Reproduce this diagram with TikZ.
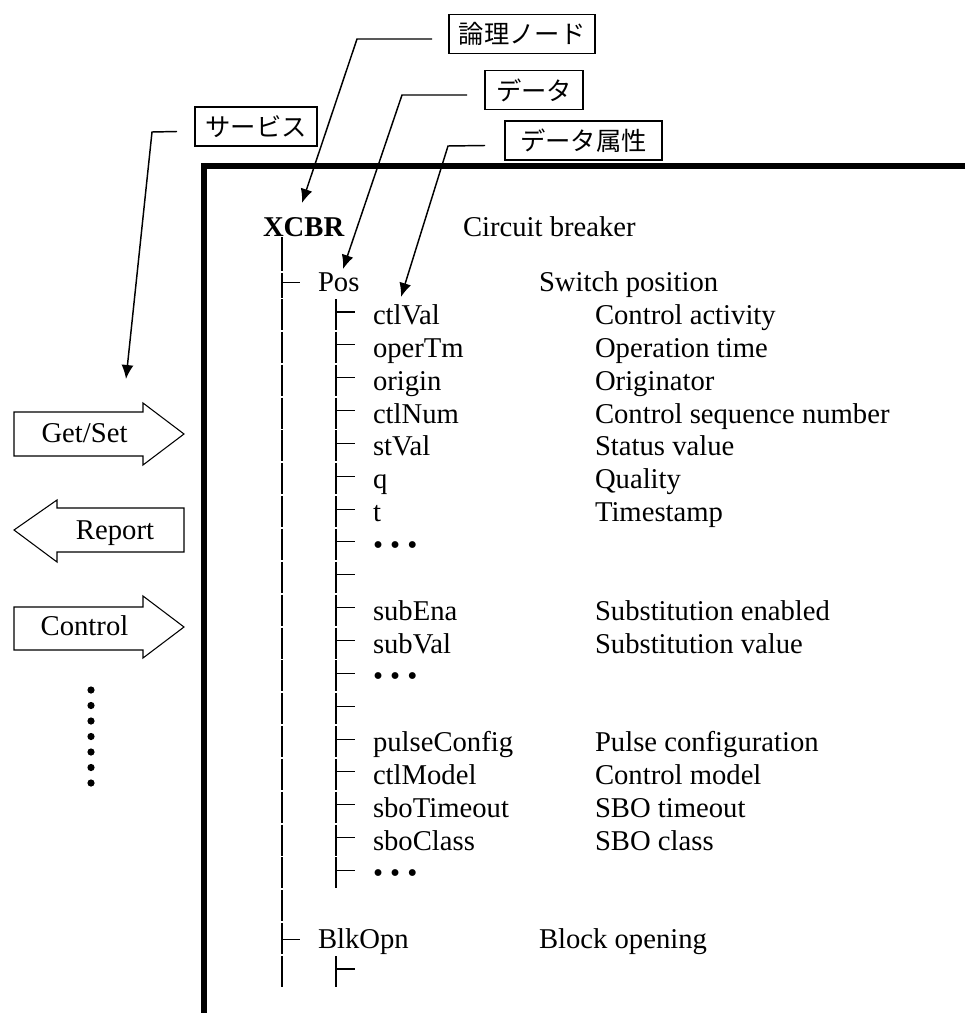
\documentclass[tikz,border=0pt]{standalone}
\usepackage{fontspec}
\setmainfont{Liberation Serif}
\newfontfamily\jpfont{Noto Sans CJK JP}
\usetikzlibrary{arrows.meta,calc}
\begin{document}
\begin{tikzpicture}[x=0.75pt,y=-0.75pt,
  every node/.style={inner sep=0pt,outer sep=0pt},
  txt/.style={anchor=base west,font=\fontsize{21.5}{26}\selectfont},
  lbl/.style={anchor=base,font=\fontsize{21.5}{26}\selectfont},
  tag/.style={draw,line width=1.1pt,minimum height=29.25pt,
    font=\jpfont\fontsize{19}{23}\selectfont},
  ptr/.style={line width=1.1pt,-{Latex[length=10.5pt,width=9pt]}},
  branch/.style={line width=0.8pt},
  frame/.style={line width=4.5pt},
  blockarrow/.style={draw,line width=0.8pt,fill=white,line join=miter}
]
\useasboundingbox (0,0) rectangle (965,1013);

% outer frame of the node tree
\draw[frame] (965,166.5) -- (204,166.5) -- (204,1016);

% label boxes
\node[tag,minimum width=109.5pt] (lnode) at (522,34) {論理ノード};
\node[tag,minimum width=73.5pt]  (data)  at (534,90) {データ};
\node[tag,minimum width=117.75pt] (dattr) at (583.5,140.5) {データ属性};
\node[tag,minimum width=91.5pt]  (svc)   at (256,126.5) {サービス};

% pointer targets and bends
\coordinate (lnbend) at (357,39);
\coordinate (lntip)  at (302,203);
\coordinate (dtbend) at (402,95);
\coordinate (dttip)  at (343,269);
\coordinate (dabend) at (448,146);
\coordinate (datip)  at (401,297);
\coordinate (svbend) at (152,132);
\coordinate (svtip)  at (126,379);

\draw[ptr] ($(lnode.west)+(-17,5)$) -- (lnbend) -- (lntip);
\draw[ptr] ($(data.west)+(-18,5)$) -- (dtbend) -- (dttip);
\draw[ptr] ($(dattr.west)+(-20,5)$) -- (dabend) -- (datip);
\draw[ptr] ($(svc.west)+(-18,5)$) -- (svbend) -- (svtip);

% logical node
\node[txt,font=\fontsize{21.5}{26}\selectfont\bfseries] (xcbr) at (263,236) {XCBR};
\node[txt] (xcbrd) at (463,236) {Circuit breaker};

% first level of the tree
\draw[branch] (282,237) -- (282,271);
\draw[branch] (282,273) -- (282,298);
\foreach \k in {0,...,20}
  \draw[branch] (282,{315+32.85*\k-16}) -- (282,{315+32.85*\k+15});
\draw[branch] (282,282.15) -- (300,282.15);
\draw[branch] (282,939.15) -- (300,939.15);
\node[txt] (pos) at (318,291.65) {Pos};
\node[txt] (posd) at (539,291.65) {Switch position};
\node[txt] (blk) at (318,948.65) {BlkOpn};
\node[txt] (blkd) at (539,948.65) {Block opening};

% second level of the tree
\foreach \k in {0,...,17,20}{
  \draw[branch] (336,{315+32.85*\k-16}) -- (336,{315+32.85*\k+15});
  \draw[branch] (336,{315+32.85*\k-3}) -- (355,{315+32.85*\k-3});
}
\foreach \k/\nm/\ds in {0/ctlVal/Control activity,1/operTm/Operation time,
  2/origin/Originator,3/ctlNum/Control sequence number,4/stVal/Status value,
  5/q/Quality,6/t/Timestamp,9/subEna/Substitution enabled,
  10/subVal/Substitution value,13/pulseConfig/Pulse configuration,
  14/ctlModel/Control model,15/sboTimeout/SBO timeout,16/sboClass/SBO class}{
  \node[txt] (a\k) at (373,{315+32.85*\k+9.5}) {\nm};
  \node[txt] (d\k) at (595,{315+32.85*\k+9.5}) {\ds};
}
\foreach \k in {7,11,17}
  \node[txt] (e\k) at (373,{315+32.85*\k+9.5}) {• • •};

% services
\draw[blockarrow] (14,412) -- (143,412) -- (143,403) -- (184,434)
  -- (143,465) -- (143,456) -- (14,456) -- cycle;
\node[lbl] (getset) at (84.5,442) {Get/Set};
\draw[blockarrow] (184,508) -- (57,508) -- (57,500) -- (14,530)
  -- (57,562) -- (57,552) -- (184,552) -- cycle;
\node[lbl] (report) at (115,539) {Report};
\draw[blockarrow] (14,607) -- (143,607) -- (143,596) -- (184,627)
  -- (143,658) -- (143,650) -- (14,650) -- cycle;
\node[lbl] (control) at (84.5,635) {Control};
\foreach \i in {0,...,6}
  \fill (91,{690+15.5*\i}) circle[radius=3.6];
\end{tikzpicture}
\end{document}
